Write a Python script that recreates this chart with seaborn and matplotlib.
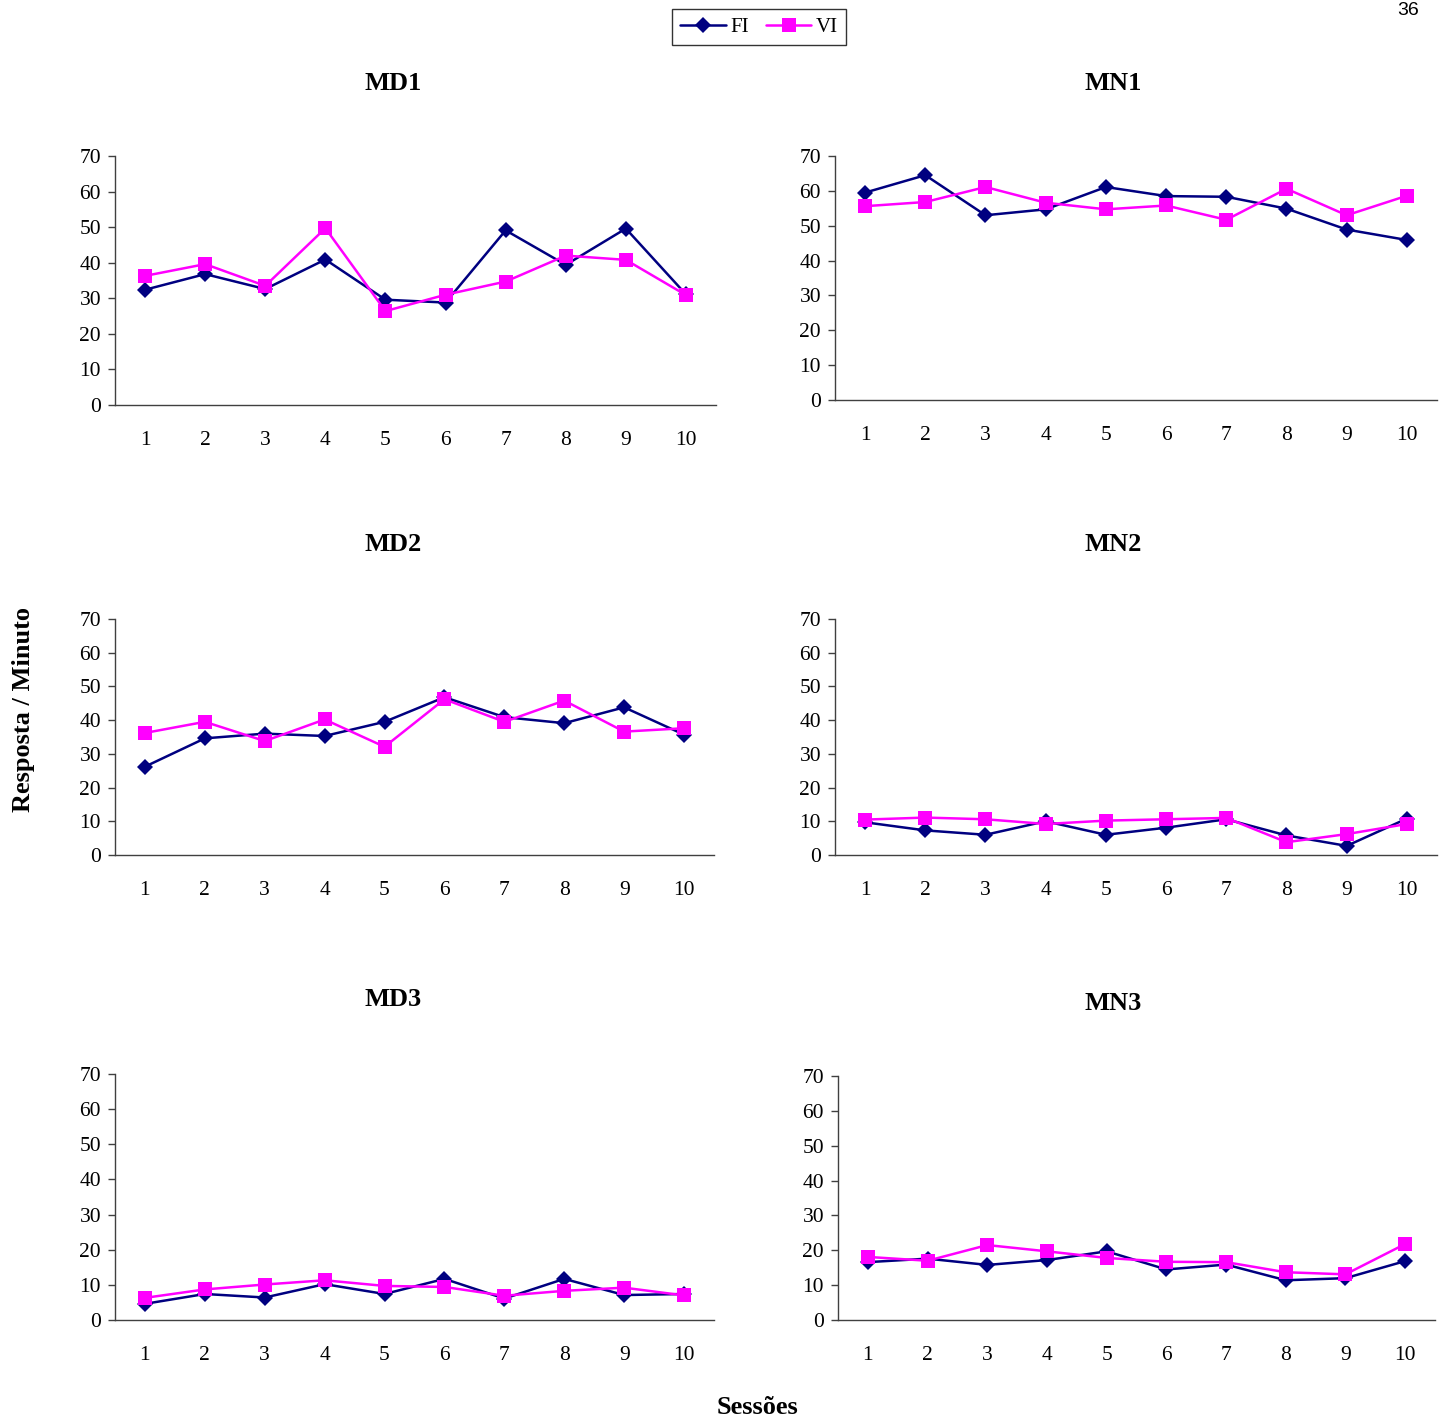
import numpy as np
import pandas as pd
import matplotlib
matplotlib.use("Agg")
import matplotlib.pyplot as plt
from matplotlib.lines import Line2D
import seaborn as sns

sessoes = list(range(1, 11))

md1_fi = [32.4, 36.8, 32.6, 40.9, 29.6, 28.8, 49.1, 39.4, 49.6, 31.1]
md1_vi = [36.3, 39.6, 33.5, 49.7, 26.4, 31.0, 34.7, 42.0, 40.8, 30.9]

mn1_fi = [59.5, 64.5, 53.0, 54.7, 61.1, 58.5, 58.3, 54.9, 48.9, 45.9]
mn1_vi = [55.6, 56.8, 61.1, 56.6, 54.7, 55.8, 51.7, 60.6, 53.0, 58.6]

md2_fi = [26.2, 34.6, 36.0, 35.3, 39.5, 46.8, 40.9, 39.1, 43.8, 35.7]
md2_vi = [36.2, 39.5, 33.8, 40.2, 32.1, 46.2, 39.5, 45.8, 36.6, 37.6]

mn2_fi = [9.7, 7.3, 6.0, 10.0, 6.0, 8.1, 10.6, 5.8, 2.7, 10.8]
mn2_vi = [10.5, 11.1, 10.6, 9.2, 10.2, 10.6, 11.0, 3.8, 6.2, 9.2]

md3_fi = [4.6, 7.4, 6.4, 10.2, 7.4, 11.7, 6.1, 11.7, 7.1, 7.4]
md3_vi = [6.3, 8.7, 10.1, 11.3, 9.7, 9.4, 6.9, 8.3, 9.2, 7.0]

mn3_fi = [16.6, 17.6, 15.8, 17.2, 19.7, 14.5, 15.9, 11.4, 12.0, 16.9]
mn3_vi = [18.1, 17.0, 21.5, 19.7, 17.8, 16.7, 16.6, 13.7, 13.1, 21.8]

titulos = ["MD1", "MN1", "MD2", "MN2", "MD3", "MN3"]
series = [(md1_fi, md1_vi), (mn1_fi, mn1_vi), (md2_fi, md2_vi),
          (mn2_fi, mn2_vi), (md3_fi, md3_vi), (mn3_fi, mn3_vi)]
y_ticks = [0, 10, 20, 30, 40, 50, 60, 70]

cores = {"FI": "#000080", "VI": "#FF00FF"}
marcadores = {"FI": "D", "VI": "s"}

sns.set_style("white")
plt.rcParams["font.family"] = ["Liberation Serif", "DejaVu Serif"]
plt.rcParams["text.color"] = "black"
plt.rcParams["xtick.color"] = "black"
plt.rcParams["ytick.color"] = "black"
plt.rcParams["xtick.labelcolor"] = "black"
plt.rcParams["ytick.labelcolor"] = "black"

W, H = 1451, 1422
fig = plt.figure(figsize=(W / 100, H / 100), dpi=100)

# axes boxes in pixels: left, top, right, bottom
caixas = [
    (115, 156, 716, 405),
    (835, 156, 1437, 400),
    (115, 619, 714, 855),
    (835, 619, 1437, 855),
    (115, 1074, 714, 1320),
    (838, 1076, 1435, 1320),
]
titulo_y = [83, 83, 545, 545, 1000, 1003]
titulo_x = [393, 1113, 393, 1113, 393, 1113]

eixo_cor = "#404040"

for i, (titulo, (fi, vi), (l, t, r, b)) in enumerate(zip(titulos, series, caixas)):
    ax = fig.add_axes([l / W, 1 - b / H, (r - l) / W, (b - t) / H])
    df = pd.DataFrame({
        "Sessão": sessoes * 2,
        "Resposta": fi + vi,
        "Esquema": ["FI"] * len(fi) + ["VI"] * len(vi),
    })
    sns.lineplot(data=df, x="Sessão", y="Resposta", hue="Esquema", style="Esquema",
                 palette=cores, markers=marcadores, dashes=False, errorbar=None,
                 linewidth=1.8, markersize=8, markeredgewidth=0,
                 legend=False, ax=ax, clip_on=False)
    for ln in ax.get_lines():
        if ln.get_marker() == "s":
            ln.set_markersize(10)
            ln.set_zorder(3)
        else:
            ln.set_markersize(8.5)
            ln.set_zorder(2)
    ax.set_xlim(0.5, 10.5)
    ax.set_ylim(0, 70)
    ax.set_yticks(y_ticks)
    ax.set_xticks(sessoes)
    ax.set_xticks(np.arange(0.5, 11, 1), minor=True)
    ax.tick_params(axis="x", which="major", length=0, pad=19, labelsize=15.5)
    ax.tick_params(axis="x", which="minor", length=5, width=1, color=eixo_cor, direction="out")
    ax.tick_params(axis="y", which="major", length=5, width=1, color=eixo_cor,
                   direction="out", pad=5, labelsize=15.5, left=True)
    for lado in ["top", "right"]:
        ax.spines[lado].set_visible(False)
    for lado in ["left", "bottom"]:
        ax.spines[lado].set_color(eixo_cor)
        ax.spines[lado].set_linewidth(1)
    ax.set_xlabel("")
    ax.set_ylabel("")
    fig.text(titulo_x[i] / W, 1 - titulo_y[i] / H, titulo, ha="center", va="center",
             fontsize=19, fontweight="bold")

fig.text(24 / W, 1 - 710 / H, "Resposta / Minuto", rotation=90, ha="center",
         va="center", fontsize=19, fontweight="bold")
fig.text(757 / W, 1 - 1408 / H, "Sessões", ha="center", va="center",
         fontsize=19, fontweight="bold")

alcas = [
    Line2D([], [], color=cores["FI"], marker="D", markersize=8, lw=1.8, markeredgewidth=0),
    Line2D([], [], color=cores["VI"], marker="s", markersize=9.5, lw=1.8, markeredgewidth=0),
]
leg = fig.legend(alcas, ["FI", "VI"], loc="center", bbox_to_anchor=(759 / W, 1 - 27 / H),
                 ncol=2, frameon=True, fancybox=False, fontsize=15, handlelength=2.2,
                 columnspacing=0.8, handletextpad=0.2, borderpad=0.4, borderaxespad=0)
leg.get_frame().set_edgecolor("black")
leg.get_frame().set_linewidth(1)

fig.text(1408 / W, 1 - 2 / H, "36", ha="center", va="top", fontsize=14,
         family=["Liberation Sans", "DejaVu Sans"])

fig.savefig("out.png", dpi=100)
